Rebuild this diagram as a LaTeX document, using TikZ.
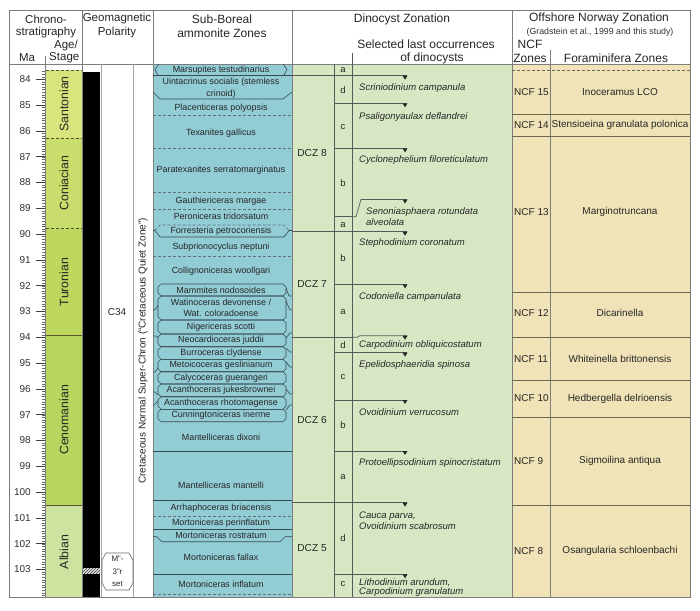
\documentclass[tikz,border=0pt]{standalone}
\usepackage{fontspec}
\setmainfont{Liberation Sans}
\usetikzlibrary{patterns}
\definecolor{ammblue}{RGB}{146,204,213}
\definecolor{dinogreen}{RGB}{215,231,196}
\definecolor{ncftan}{RGB}{240,227,183}
\definecolor{sant}{RGB}{218,228,125}
\definecolor{coni}{RGB}{200,221,108}
\definecolor{turo}{RGB}{190,216,95}
\definecolor{ceno}{RGB}{183,213,95}
\definecolor{albi}{RGB}{206,227,160}
\definecolor{gridc}{RGB}{125,125,125}
\definecolor{amline}{RGB}{55,75,80}
\definecolor{ncfline}{RGB}{110,104,80}
\tikzset{
 hdr/.style={font=\fontsize{12}{13}\selectfont, inner sep=0pt, text=black!85},
 hdrs/.style={font=\fontsize{11.5}{13}\selectfont, inner sep=0pt, text=black!85},
 subhdr/.style={font=\fontsize{8.8}{10}\selectfont, inner sep=0pt, text=black!80},
 amm/.style={font=\fontsize{8.9}{11.3}\selectfont, inner sep=0pt, align=center, text=black!85},
 lotext/.style={font=\fontsize{9.5}{11.6}\selectfont\itshape, inner sep=0pt, anchor=west, align=left, text=black!85},
 dcz/.style={font=\fontsize{10.2}{12}\selectfont, inner sep=0pt, text=black!85},
 subz/.style={font=\fontsize{9.5}{11}\selectfont, inner sep=0pt, text=black!85},
 ncf/.style={font=\fontsize{10}{11}\selectfont, inner sep=0pt, text=black!85},
 ncfl/.style={ncf, anchor=west},
 malab/.style={font=\fontsize{10}{10}\selectfont, inner sep=0pt, anchor=east, text=black!80},
 stagelab/.style={font=\fontsize{12.3}{13}\selectfont, inner sep=0pt, rotate=90, text=black!85},
 grid/.style={draw=gridc, line width=0.7pt},
 amb/.style={draw=amline, line width=0.6pt},
 ambd/.style={draw=amline!80, line width=0.6pt, dash pattern=on 3pt off 2pt},
 dline/.style={draw=black!65, line width=0.7pt},
 nline/.style={draw=ncfline, line width=0.7pt},
 stgdash/.style={draw=black!55!olive, line width=0.7pt, dash pattern=on 3pt off 2pt},
 stgline/.style={draw=black!50!olive, line width=0.7pt},
}
\newcommand{\lomark}[1]{\fill[black!85] (402.5,#1) -- (407.5,#1) -- (405,{#1+4}) -- cycle;}
\newcommand{\loline}[1]{\draw[dline] (352,#1) -- (407,#1); \lomark{#1}}
\newcommand{\ambox}[2]{\draw[amb] (158,{#1+3}) -- (161,#1) -- (283,#1) -- (286,{#1+3}) -- (286,{#2-3}) -- (283,#2) -- (161,#2) -- (158,{#2-3}) -- cycle;}
\begin{document}
\begin{tikzpicture}[x=1pt,y=-1pt]
\useasboundingbox (0,0) rectangle (700,610);
\fill[white] (0,0) rectangle (700,610);
% ---------- column fills
\fill[ammblue] (153,64) rectangle (292,597);
\fill[dinogreen] (292,64) rectangle (512,597);
\fill[ncftan] (512,64) rectangle (690,597);
\fill[sant] (46,70) rectangle (82,138);
\fill[coni] (46,138) rectangle (82,228.7);
\fill[turo] (46,228.7) rectangle (82,335.7);
\fill[ceno] (46,335.7) rectangle (82,505.7);
\fill[albi] (46,505.7) rectangle (82,597);
% stage boundaries
\draw[stgdash] (46,70) -- (82,70);
\draw[stgdash] (46,138) -- (82,138);
\draw[stgdash] (46,228.7) -- (82,228.7);
\draw[stgline] (46,335.7) -- (82,335.7);
\draw[stgline] (46,505.7) -- (82,505.7);
% polarity bar
\fill[black] (83,72) rectangle (100,568);
\fill[black!12] (83,568) rectangle (100,574);
\fill[pattern=north east lines, pattern color=black!75] (83,568) rectangle (100,574);
\fill[black] (83,574) rectangle (100,597);
% ---------- grid
\draw[grid] (9,10) rectangle (690,597);
\draw[grid] (9,64) -- (690,64);
\foreach \xx in {82,153,292,512} \draw[grid] (\xx,10) -- (\xx,597);
\draw[grid, draw=gridc!70] (101,64) -- (101,597);
\draw[grid, draw=gridc!70] (133,64) -- (133,597);
\draw[grid] (45,56) -- (45,597);
\draw[dline] (334,64) -- (334,597);
\draw[dline] (352,53) -- (352,597);
\draw[grid] (550,50) -- (550,597);
% ---------- Ma axis
\foreach \k in {-3,...,200} \draw[black!60, line width=0.4pt] (41.5,{79.3+2.58*\k}) -- (45,{79.3+2.58*\k});
\foreach \m [count=\i from 0] in {84,...,103} {
  \draw[black!75, line width=0.6pt] (36,{79.3+25.8*\i}) -- (45,{79.3+25.8*\i});
  \node[malab] (ma\m) at (31,{79.3+25.8*\i}) {\m};
}
% ---------- headers
\node[hdrs] (hchrono) at (46,19) {Chrono-};
\node[hdrs] (hstrat) at (46,33) {stratigraphy};
\node[hdrs, anchor=east] (hage) at (78,46) {Age/};
\node[hdrs, anchor=east] (hstage) at (79.5,58) {Stage};
\node[hdrs] (hma) at (27,58) {Ma};
\node[hdrs] (hgeo) at (117,19) {Geomagnetic};
\node[hdrs] (hpol) at (117,33) {Polarity};
\node[hdr] (hsub) at (222,19) {Sub-Boreal};
\node[hdr] (hamm) at (222,33) {ammonite Zones};
\node[hdr] (hdino) at (402,19) {Dinocyst Zonation};
\node[hdr] (hsel) at (426,44) {Selected last occurrences};
\node[hdr] (hof) at (432,58) {of dinocysts};
\node[hdr] (hoff) at (599,18) {Offshore Norway Zonation};
\node[subhdr] (hgrad) at (600,32) {(Gradstein et al., 1999 and this study)};
\node[hdr] (hncf) at (530,44) {NCF};
\node[hdr] (hzon) at (530,58) {Zones};
\node[hdr] (hfor) at (616,58) {Foraminifera Zones};
% ---------- stage labels
\node[stagelab] (ssan) at (64,104) {Santonian};
\node[stagelab] (scon) at (64,183) {Coniacian};
\node[stagelab] (stur) at (64,282) {Turonian};
\node[stagelab] (scen) at (64,420) {Cenomanian};
\node[stagelab] (salb) at (64,552) {Albian};
% ---------- polarity texts
\node[font=\fontsize{10}{11}\selectfont, inner sep=0pt, text=black!85] (c34) at (117,312) {C34};
\node[font=\fontsize{10}{11}\selectfont, inner sep=0pt, rotate=90, text=black!85] (quiet) at (143,351) {Cretaceous Normal Super-Chron (``Cretaceous Quiet Zone'')};
\fill[white] (106,553) -- (129,553) -- (133,560) -- (133,583) -- (129,590) -- (106,590) -- (102,583) -- (102,560) -- cycle;
\draw[black!60, line width=0.6pt] (106,553) -- (129,553) -- (133,560) -- (133,583) -- (129,590) -- (106,590) -- (102,583) -- (102,560) -- cycle;
\node[font=\fontsize{8}{12.5}\selectfont, inner sep=0pt, align=center, text=black!85] (mset) at (117.5,571.5) {M"-\\3"r\\set};
% ---------- ammonite zone boundaries
\draw[amb] (159,64) -- (155,69.5) -- (158,75);
\draw[amb] (283,64) -- (287,69.5) -- (284,75);
\draw[amb] (153,75) -- (292,75);
\draw[amb] (153,92) -- (160,99) -- (283,99) -- (292,92);
\draw[ambd] (153,115.7) -- (292,115.7);
\draw[ambd] (153,148.3) -- (292,148.3);
\draw[ambd] (153,192.3) -- (292,192.3);
\draw[ambd] (153,209.3) -- (292,209.3);
\draw[ambd] (155,230.5) -- (160,225) -- (284,225) -- (289,230.5);
\draw[amb] (153,230.5) -- (155,230.5) -- (160,237) -- (284,237) -- (289,230.5) -- (292,230.5);
\draw[ambd] (153,256) -- (292,256);
\ambox{284}{296}
\ambox{296}{320}
\ambox{320}{334}
\ambox{334}{346.7}
\ambox{346.7}{359.3}
\ambox{359.3}{371.7}
\ambox{371.7}{384}
\ambox{384}{396.7}
\ambox{396.7}{409.3}
\ambox{409.3}{421.7}
\draw[amb] (153,310) -- (155,310) -- (158,305);
\draw[amb] (153,336) -- (156,336) -- (158,338);
\draw[amb] (153,372) -- (155,372) -- (158,368);
\draw[amb] (153,392) -- (155,392) -- (158,395);
\draw[amb] (153,406) -- (158,401);
\draw[amb] (292,296) -- (289,296) -- (286,288);
\draw[amb] (292,310) -- (290,310) -- (286,301);
\draw[amb] (292,333) -- (290,333) -- (286,338);
\draw[amb] (292,352) -- (290,352) -- (286,348);
\draw[amb] (292,367) -- (290,367) -- (286,362);
\draw[amb] (292,394) -- (290,394) -- (286,389);
\draw[amb] (292,405) -- (290,405) -- (286,410);
\draw[amb] (153,451.7) -- (292,451.7);
\draw[amb] (153,500) -- (292,500);
\draw[ambd] (153,516.7) -- (292,516.7);
\draw[amb] (153,529.3) -- (292,529.3);
\draw[amb] (153,536.7) -- (157,536.7) -- (162,541.7) -- (280,541.7) -- (285,536.7) -- (292,536.7);
\draw[amb] (153,574) -- (292,574);
\draw[ambd] (153,594) -- (292,594);
% ---------- ammonite zone names
\node[amm] (z1) at (221,70) {Marsupites testudinarius};
\node[amm] (z2) at (221,88.3) {Uintacrinus socialis (stemless\\crinoid)};
\node[amm] (z3) at (221,108.3) {Placenticeras polyopsis};
\node[amm] (z4) at (221,132.7) {Texanites gallicus};
\node[amm] (z5) at (221,170) {Paratexanites serratomarginatus};
\node[amm] (z6) at (221,200.7) {Gauthiericeras margae};
\node[amm] (z7) at (221,216.7) {Peroniceras tridorsatum};
\node[amm] (z8) at (221,231.2) {Forresteria petrocoriensis};
\node[amm] (z9) at (221,247) {Subprionocyclus neptuni};
\node[amm] (z10) at (221,271) {Collignoniceras woollgari};
\node[amm] (z11) at (221,290) {Mammites nodosoides};
\node[amm] (z12) at (221,307.8) {Watinoceras devonense /\\Wat. coloradoense};
\node[amm] (z13) at (221,327) {Nigericeras scotti};
\node[amm] (z14) at (221,340.3) {Neocardioceras juddii};
\node[amm] (z15) at (221,353) {Burroceras clydense};
\node[amm] (z16) at (221,365.5) {Metoicoceras geslinianum};
\node[amm] (z17) at (221,377.9) {Calycoceras guerangeri};
\node[amm] (z18) at (221,390.4) {Acanthoceras jukesbrownei};
\node[amm] (z19) at (221,403) {Acanthoceras rhotomagense};
\node[amm] (z20) at (221,415.5) {Cunningtoniceras inerme};
\node[amm] (z21) at (221,437.3) {Mantelliceras dixoni};
\node[amm] (z22) at (221,485) {Mantelliceras mantelli};
\node[amm] (z23) at (221,508.3) {Arrhaphoceras briacensis};
\node[amm] (z24) at (221,523) {Mortoniceras perinflatum};
\node[amm] (z25) at (221,535.5) {Mortoniceras rostratum};
\node[amm] (z26) at (221,557.3) {Mortoniceras fallax};
\node[amm] (z27) at (221,584.3) {Mortoniceras inflatum};
% ---------- dinocyst zones
\draw[dline] (292,75.7) -- (352,75.7);
\draw[dline] (334,103.3) -- (352,103.3);
\draw[dline] (334,148.3) -- (352,148.3);
\draw[dline] (334,216.7) -- (352,216.7);
\draw[dline] (292,231.7) -- (352,231.7);
\draw[dline] (334,284.3) -- (352,284.3);
\draw[dline] (292,337.3) -- (352,337.3);
\draw[dline] (334,352.7) -- (352,352.7);
\draw[dline] (334,400) -- (352,400);
\draw[dline] (334,451) -- (352,451);
\draw[dline] (292,502.7) -- (352,502.7);
\draw[dline] (334,574.3) -- (352,574.3);
\node[dcz] (dcz8) at (312,153.3) {DCZ 8};
\node[dcz] (dcz7) at (312,284.3) {DCZ 7};
\node[dcz] (dcz6) at (312,420) {DCZ 6};
\node[dcz] (dcz5) at (312,547.7) {DCZ 5};
\node[subz] (s9a) at (343,70) {a};
\node[subz] (s8d) at (343,90) {d};
\node[subz] (s8c) at (343,126.7) {c};
\node[subz] (s8b) at (343,183.3) {b};
\node[subz] (s8a) at (343,225) {a};
\node[subz] (s7b) at (343,258.3) {b};
\node[subz] (s7a) at (343,311.7) {a};
\node[subz] (s6d) at (343,345.3) {d};
\node[subz] (s6c) at (343,376.7) {c};
\node[subz] (s6b) at (343,425) {b};
\node[subz] (s6a) at (343,477.3) {a};
\node[subz] (s5d) at (343,538.3) {d};
\node[subz] (s5c) at (343,584) {c};
% last occurrences
\loline{75.7}
\loline{103.3}
\loline{148.3}
\draw[dline] (352,216.7) -- (356,216.7) -- (361,199.5) -- (407,199.5); \lomark{199.5}
\loline{231.7}
\loline{284.3}
\draw[dline] (352,337.3) -- (357,337.3) -- (360,335.7) -- (407,335.7); \lomark{335.7}
\loline{352.7}
\loline{400}
\loline{451}
\loline{502.7}
\loline{574.3}
\node[lotext] (lo1) at (359,88.3) {Scriniodinium campanula};
\node[lotext] (lo2) at (359,116.7) {Psaligonyaulax deflandrei};
\node[lotext] (lo3) at (359,160) {Cyclonephelium filoreticulatum};
\node[lotext] (lo4) at (366,216.5) {Senoniasphaera rotundata\\alveolata};
\node[lotext] (lo5) at (359,242.7) {Stephodinium coronatum};
\node[lotext] (lo6) at (359,296.7) {Codoniella campanulata};
\node[lotext] (lo7) at (359,345.3) {Carpodinium obliquicostatum};
\node[lotext] (lo8) at (359,365) {Epelidosphaeridia spinosa};
\node[lotext] (lo9) at (359,411.7) {Ovoidinium verrucosum};
\node[lotext] (lo10) at (359,463.3) {Protoellipsodinium spinocristatum};
\node[lotext] (lo11) at (359,520.8) {Cauca parva,\\Ovoidinium scabrosum};
\node[lotext, font=\fontsize{9.5}{9}\selectfont\itshape] (lo12) at (359,587.8) {Lithodinium arundum,\\Carpodinium granulatum};
% ---------- NCF / foraminifera
\draw[nline, dash pattern=on 3pt off 2pt] (512,70) -- (690,70);
\foreach \yy in {114,136,292,337.3,380,417,505} \draw[nline] (512,\yy) -- (690,\yy);
\node[ncfl] (n15) at (514,92) {NCF 15};
\node[ncf] (f15) at (620,92) {Inoceramus LCO};
\node[ncfl] (n14) at (514,125) {NCF 14};
\node[ncf] (f14) at (620,125) {Stensioeina granulata polonica};
\node[ncfl] (n13) at (514,212) {NCF 13};
\node[ncf] (f13) at (620,212) {Marginotruncana};
\node[ncfl] (n12) at (514,313) {NCF 12};
\node[ncf] (f12) at (620,313) {Dicarinella};
\node[ncfl] (n11) at (514,358.6) {NCF 11};
\node[ncf] (f11) at (620,358.6) {Whiteinella brittonensis};
\node[ncfl] (n10) at (514,398.5) {NCF 10};
\node[ncf] (f10) at (620,398.5) {Hedbergella delrioensis};
\node[ncfl] (n9) at (514,461) {NCF 9};
\node[ncf] (f9) at (620,461) {Sigmoilina antiqua};
\node[ncfl] (n8) at (514,551) {NCF 8};
\node[ncf] (f8) at (620,551) {Osangularia schloenbachi};
\end{tikzpicture}
\end{document}
